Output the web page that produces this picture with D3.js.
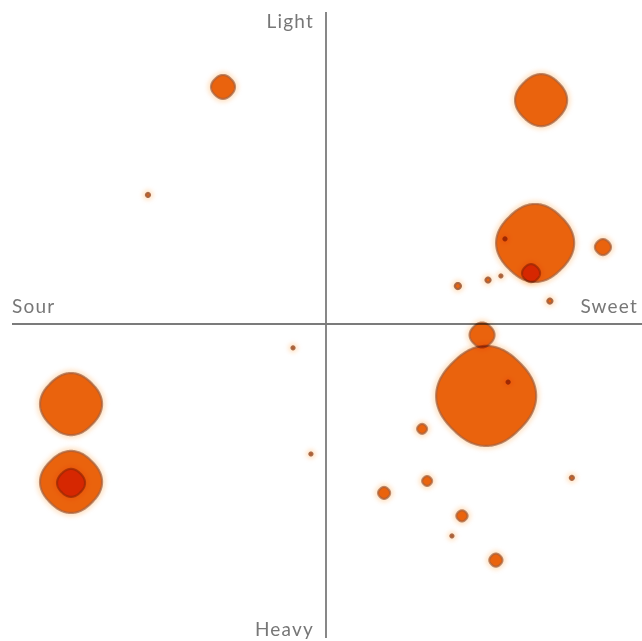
<!DOCTYPE html>
<html>
<head>
<meta charset="utf-8">
<script src="https://cdn.jsdelivr.net/npm/d3@7/dist/d3.min.js"></script>
<style>
  html, body { margin: 0; padding: 0; background: #fff; }
  svg { display: block; }
  .bubble { mix-blend-mode: multiply; }
</style>
</head>
<body>
<svg id="chart" width="642" height="641"></svg>
<script>
// Sweetness (x: sour -> sweet) and body (y: heavy -> light), size value
const sweetness = [-32.8, 68.5, -56.7, 66.6, 57.0, 65.3, 88.2, 42.0, 51.6, 55.7, 71.3, 49.7, 51.0, 58.0, -81.2, -81.2, -81.2, 30.6, 32.2, 18.5, 43.3, 40.1, 54.1, 78.3, -10.5, -4.8];
const lightness = [75.5, 71.3, 41.1, 25.8, 27.1, 16.2, 24.5, 12.1, 14.0, 15.3, 7.3, -3.5, -22.9, -18.5, -25.5, -50.3, -50.6, -33.4, -50.0, -53.8, -61.1, -67.5, -75.2, -49.0, -7.6, -41.4];
const sizes = [62, 270, 3.3, 592, 2.3, 37, 30, 6, 4.5, 2.3, 4.5, 67, 962, 2.3, 379, 379, 83, 13, 13, 18, 16, 2.3, 21, 3.3, 2.3, 2.3];
const axisLabels = ["Light", "Heavy", "Sour", "Sweet"];

const data = sweetness.map((x, i) => ({ x, y: lightness[i], s: sizes[i] }));

const W = 642, H = 641;
const svg = d3.select("#chart");

const x = d3.scaleLinear().domain([-100, 100]).range([12, 640]);
const y = d3.scaleLinear().domain([100, -100]).range([10, 638]);
const r = d3.scaleSqrt().domain([0, 1000]).range([0, 52]);

// filters
const defs = svg.append("defs");
const f = defs.append("filter").attr("id", "glow")
  .attr("x", "-50%").attr("y", "-50%").attr("width", "200%").attr("height", "200%");
f.append("feGaussianBlur").attr("stdDeviation", 2.2);
const f2 = defs.append("filter").attr("id", "soft")
  .attr("x", "-50%").attr("y", "-50%").attr("width", "200%").attr("height", "200%");
f2.append("feGaussianBlur").attr("stdDeviation", 0.7);

// rounded diamond: superellipse rotated 45deg, R = extent along the axes
const N = 2.4;
const angles = d3.range(0, 2 * Math.PI + 0.001, Math.PI / 90);
const k = Math.SQRT1_2;
function shape(R) {
  const a = R / Math.pow(2, 0.5 - 1 / N);
  return d3.line().curve(d3.curveLinearClosed)(angles.map(t => {
    const c = Math.cos(t), s = Math.sin(t);
    const u = a * Math.sign(c) * Math.pow(Math.abs(c), 2 / N);
    const v = a * Math.sign(s) * Math.pow(Math.abs(s), 2 / N);
    return [k * (u - v), k * (u + v)];
  }));
}

// axes
const cx = x(0), cy = y(0);
svg.append("line").attr("x1", cx).attr("x2", cx).attr("y1", y(100) + 2).attr("y2", y(-100))
  .attr("stroke", "#7b7b7b").attr("stroke-width", 1.8);
svg.append("line").attr("x1", x(-100)).attr("x2", W).attr("y1", cy).attr("y2", cy)
  .attr("stroke", "#7b7b7b").attr("stroke-width", 1.8);

// bubbles
const g = svg.append("g");
const b = g.selectAll("g.bubble").data(data).join("g")
  .attr("class", "bubble")
  .attr("transform", d => `translate(${x(d.x)},${y(d.y)})`);
b.append("path")
  .attr("d", d => shape(r(d.s) + 2.5))
  .attr("fill", "#ffcf9c")
  .attr("opacity", 0.55)
  .attr("filter", "url(#glow)");
b.append("path")
  .attr("d", d => shape(Math.max(r(d.s) - 1, 1)))
  .attr("fill", "#ea630f")
  .attr("stroke", "#a2613e")
  .attr("stroke-opacity", d => d.s < 10 ? 0.9 : 0.7)
  .attr("stroke-width", 2.2)
  .attr("filter", "url(#soft)");

// labels
const font = "Lato, 'DejaVu Sans', sans-serif";
const lab = svg.append("g").attr("font-family", font).attr("font-size", 19)
  .attr("fill", "#777").attr("letter-spacing", 1.2);
lab.append("text").attr("x", cx - 12).attr("y", 28).attr("text-anchor", "end").text(axisLabels[0]);
lab.append("text").attr("x", cx - 12).attr("y", 636).attr("text-anchor", "end").text(axisLabels[1]);
lab.append("text").attr("x", 12).attr("y", 313).attr("text-anchor", "start").text(axisLabels[2]);
lab.append("text").attr("x", 638).attr("y", 313).attr("text-anchor", "end").text(axisLabels[3]);
</script>
</body>
</html>
